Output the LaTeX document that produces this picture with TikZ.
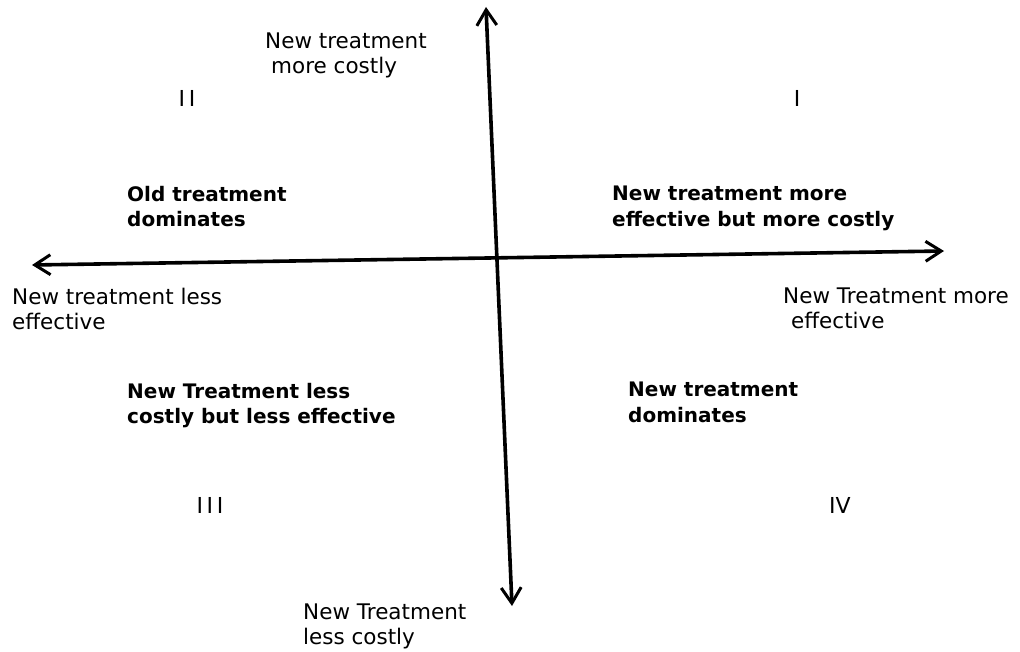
\documentclass[tikz,border=0pt]{standalone}
\usepackage{fontspec}
\setmainfont{DejaVu Sans}
\usetikzlibrary{arrows.meta,positioning}
\tikzset{
  >={Straight Barb[length=5.5mm,width=7mm,line width=3pt]},
  axis/.style={<->,line width=3.6pt,black},
  endlbl/.style={font=\fontsize{21.5}{25}\selectfont,align=left,anchor=north west,inner sep=0pt},
  qlbl/.style={font=\fontsize{20}{25.5}\selectfont\bfseries,align=left,anchor=north west,inner sep=0pt},
  numlbl/.style={font=\fontsize{22}{25}\selectfont,inner sep=0pt},
}
\begin{document}
\begin{tikzpicture}[x=1pt,y=-1pt]
  \useasboundingbox (0,0) rectangle (1020,652);
  % axes
  \coordinate (top) at (486,7);
  \coordinate (bot) at (512,606);
  \coordinate (lft) at (32,265);
  \coordinate (rgt) at (944,251);
  \draw[axis] (bot) -- (top);
  \draw[axis] (lft) -- (rgt);
  % quadrant numbers
  \node[numlbl] (q1) at (797,98) {I};
  \node[numlbl] (q2) at (187,98) {I\,I};
  \node[numlbl] (q3) at (210,505) {I\,I\,I};
  \node[numlbl] (q4) at (840,505) {IV};
  % axis ends
  \node[endlbl] (costup) at (265,33) {New treatment\\\hspace{6pt}more costly};
  \node[endlbl] (costdn) at (303,604) {New Treatment\\less costly};
  \node[endlbl] (effdn) at (12,288) {New treatment less\\effective};
  \node[endlbl] (effup) at (783,288) {New Treatment more\\\hspace{8pt}effective};
  % quadrant texts
  \node[qlbl] (old) at (127,186) {Old treatment\\dominates};
  \node[qlbl] (trade) at (612,186) {New treatment more\\effective but more costly};
  \node[qlbl] (cheap) at (127,383) {New Treatment less\\costly but less effective};
  \node[qlbl] (new) at (628,382) {New treatment\\dominates};
\end{tikzpicture}
\end{document}
